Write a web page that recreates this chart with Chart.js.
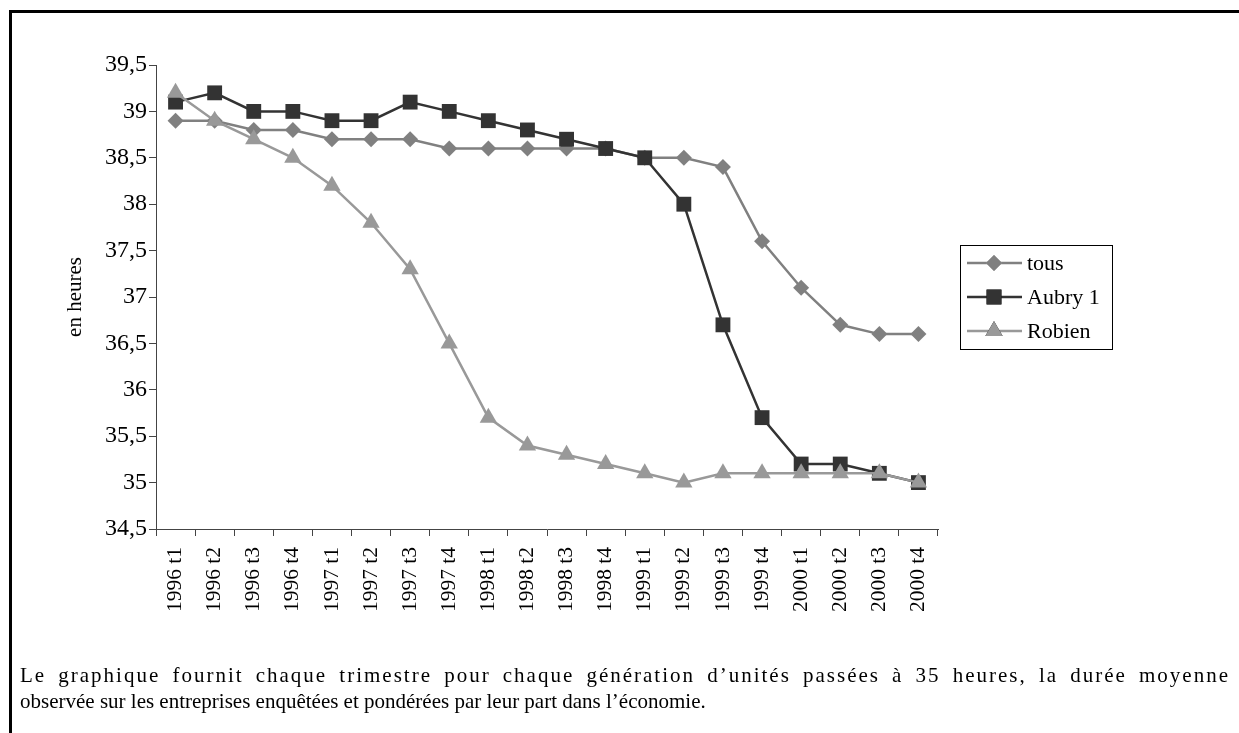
<!DOCTYPE html>
<html>
<head>
<meta charset="utf-8">
<script src="https://cdn.jsdelivr.net/npm/chart.js@4/dist/chart.umd.min.js"></script>
<style>
  html, body { margin: 0; padding: 0; background: #fff; }
  #wrap { position: relative; width: 1239px; height: 733px; overflow: hidden; }
  #frame { position: absolute; left: 9px; top: 10px; width: 1300px; height: 800px;
           border-top: 3px solid #000; border-left: 3px solid #000; box-sizing: border-box; }
  canvas { position: absolute; left: 0; top: 0; }
  .cap { position: absolute; left: 20px; font-family: "Liberation Serif", "Times New Roman", serif;
         font-size: 21px; color: #000; white-space: nowrap; line-height: 26px; }
  #cap1 { top: 662px; width: 1210px; text-align: justify; text-align-last: justify; white-space: normal; letter-spacing: 2px; }
  #cap2 { top: 688px; }
</style>
</head>
<body>
<div id="wrap">
  <div id="frame"></div>
  <canvas id="c" width="1239" height="733"></canvas>
  <div class="cap" id="cap1">Le graphique fournit chaque trimestre pour chaque génération d’unités passées à 35 heures, la durée moyenne</div>
  <div class="cap" id="cap2">observée sur les entreprises enquêtées et pondérées par leur part dans l’économie.</div>
</div>
<script>
const quarters = ["1996 t1","1996 t2","1996 t3","1996 t4","1997 t1","1997 t2","1997 t3","1997 t4",
                  "1998 t1","1998 t2","1998 t3","1998 t4","1999 t1","1999 t2","1999 t3","1999 t4",
                  "2000 t1","2000 t2","2000 t3","2000 t4"];
const tous   = [38.9,38.9,38.8,38.8,38.7,38.7,38.7,38.6,38.6,38.6,38.6,38.6,38.5,38.5,38.4,37.6,37.1,36.7,36.6,36.6];
const aubry1 = [39.1,39.2,39.0,39.0,38.9,38.9,39.1,39.0,38.9,38.8,38.7,38.6,38.5,38.0,36.7,35.7,35.2,35.2,35.1,35.0];
const robien = [39.2,38.9,38.7,38.5,38.2,37.8,37.3,36.5,35.7,35.4,35.3,35.2,35.1,35.0,35.1,35.1,35.1,35.1,35.1,35.0];
const seriesNames = ["tous","Aubry 1","Robien"];
const yTitle = "en heures";

const FONT = '"Liberation Serif", "Times New Roman", serif';
const AXIS = '#444';

const legendPlugin = {
  id: 'customLegend',
  afterDraw(chart) {
    const ctx = chart.ctx;
    const bx = 960, by = 245, bw = 152, bh = 104;
    ctx.save();
    ctx.strokeStyle = '#000';
    ctx.lineWidth = 1;
    ctx.strokeRect(bx + 0.5, by + 0.5, bw, bh);
    const rows = [263, 297, 331];
    chart.data.datasets.forEach((ds, i) => {
      const y = rows[i];
      ctx.strokeStyle = ds.borderColor;
      ctx.lineWidth = ds.borderWidth;
      ctx.beginPath();
      ctx.moveTo(967, y);
      ctx.lineTo(1022, y);
      ctx.stroke();
      Chart.helpers.drawPoint(ctx, {pointStyle: ds.pointStyle, radius: ds.pointRadius, borderWidth: 0, rotation: 0},
                              994, y);
      ctx.fillStyle = ds.pointBackgroundColor;
      ctx.fill();
      ctx.fillStyle = '#000';
      ctx.font = '22px ' + FONT;
      ctx.textBaseline = 'middle';
      ctx.textAlign = 'left';
      ctx.fillText(ds.label, 1027, y + 1);
    });
    ctx.restore();
  }
};

new Chart(document.getElementById('c'), {
  type: 'line',
  data: {
    labels: quarters,
    datasets: [
      { label: seriesNames[0], data: tous, borderColor: '#808080', backgroundColor: '#808080',
        pointBackgroundColor: '#808080', pointBorderColor: '#808080', pointStyle: 'rectRot', pointRadius: 8,
        pointBorderWidth: 0, borderWidth: 2.5, order: 2, clip: false },
      { label: seriesNames[1], data: aubry1, borderColor: '#333333', backgroundColor: '#333333',
        pointBackgroundColor: '#333333', pointBorderColor: '#333333', pointStyle: 'rect', pointRadius: 10.5,
        pointBorderWidth: 0, borderWidth: 2.5, order: 1, clip: false },
      { label: seriesNames[2], data: robien, borderColor: '#999999', backgroundColor: '#999999',
        pointBackgroundColor: '#999999', pointBorderColor: '#999999', pointStyle: 'triangle', pointRadius: 10,
        pointBorderWidth: 0, borderWidth: 2.5, order: 0, clip: false }
    ]
  },
  options: {
    responsive: false,
    animation: false,
    events: [],
    layout: { padding: { left: 59, right: 301, top: 65, bottom: 0 } },
    plugins: { legend: { display: false }, tooltip: { enabled: false } },
    scales: {
      x: {
        type: 'category',
        offset: true,
        afterFit: s => { s.height = 204; },
        grid: { display: true, offset: true, drawOnChartArea: false, drawTicks: true, tickLength: 7, color: AXIS, lineWidth: 1 },
        border: { display: true, color: AXIS, width: 1 },
        ticks: { autoSkip: false, maxRotation: 90, minRotation: 90, padding: 11, color: '#000',
                 font: { family: FONT, size: 21.5 } }
      },
      y: {
        min: 34.5, max: 39.5,
        afterFit: s => { s.width = 97; },
        grid: { display: true, drawOnChartArea: false, drawTicks: true, tickLength: 7, color: AXIS, lineWidth: 1 },
        border: { display: true, color: AXIS, width: 1 },
        ticks: { stepSize: 0.5, padding: 2, color: '#000', font: { family: FONT, size: 24 },
                 callback: v => String(v).replace('.', ',') },
        title: { display: true, text: yTitle, color: '#000', font: { family: FONT, size: 21 }, padding: { top: 4, bottom: 0 } }
      }
    }
  },
  plugins: [legendPlugin]
});
</script>
</body>
</html>
